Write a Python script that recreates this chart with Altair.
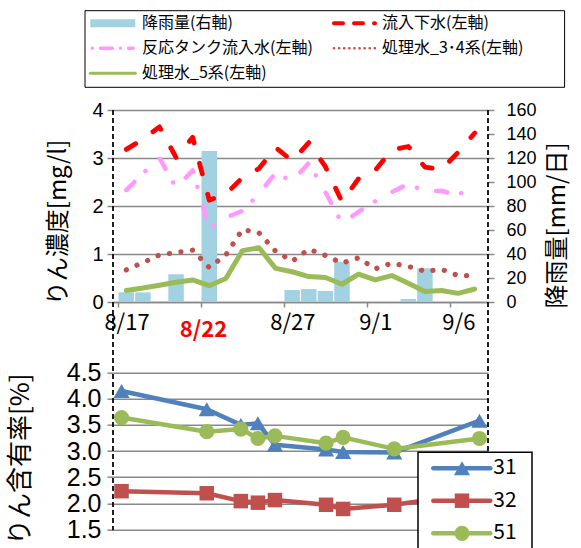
import altair as alt
import pandas as pd

# ---------------- data ----------------
# day index 0 = 8/17 ... 21 = 9/7
tick_days = [0, 5, 10, 15, 20]
tick_labels = ["8/17", "8/22", "8/27", "9/1", "9/6"]
highlight_label = "8/22"

rain = [8.1, 8.0, 0.8, 23.1, 0, 125.8, 0, 0, 0, 0, 10.0, 10.8, 9.2, 33.6,
        0, 0, 0, 2.5, 28.1, 0, 0, 0.8]
inflow = [3.18, 3.39, 3.65, 3.01, 3.43, 2.12, 2.25, 2.59, 2.78, 3.22, 2.94,
          3.32, 2.82, 2.09, 2.57, 2.74, 3.17, 3.24, 2.81, 2.76, 3.12, 3.52]
tank = [2.33, 2.68, 3.00, 2.38, 2.74, 1.55, 1.76, 1.90, 2.25, 2.69, 2.51,
        2.90, 2.29, 1.64, 1.88, 2.10, 2.29, 2.46, 2.30, 2.32, 2.21, 2.52]
treat34 = [0.67, 0.82, 0.98, 1.03, 1.08, 0.72, 0.98, 1.51, 1.44, 1.06, 0.85,
           1.10, 0.97, 0.81, 0.92, 0.69, 0.81, 0.74, 0.64, 0.68, 0.55, 0.55]
treat5 = [0.24, 0.29, 0.35, 0.41, 0.46, 0.34, 0.49, 1.07, 1.13, 0.70, 0.63,
          0.53, 0.51, 0.37, 0.58, 0.46, 0.55, 0.39, 0.22, 0.24, 0.18, 0.27]

series_names = ["降雨量(右軸)", "流入下水(左軸)", "反応タンク流入水(左軸)",
                "処理水_3･4系(左軸)", "処理水_5系(左軸)"]

lab_days = [0, 5, 7, 8, 9, 12, 13, 16, 21]
s31 = [4.15, 3.80, 3.50, 3.53, 3.12, 3.03, 2.98, 2.97, 3.58]
s32 = [2.23, 2.19, 2.04, 2.01, 2.06, 1.97, 1.89, 1.97, 2.20]
s51 = [3.64, 3.37, 3.42, 3.24, 3.29, 3.15, 3.26, 3.04, 3.24]
low_names = ["31", "32", "51"]

left_ticks = [0, 1, 2, 3, 4]
right_ticks = [0, 20, 40, 60, 80, 100, 120, 140, 160]
low_ticks = [1.5, 2.0, 2.5, 3.0, 3.5, 4.0, 4.5]

# ---------------- style ----------------
F_JP = "Noto Sans CJK JP"
F_NUM = "Liberation Sans"
GRID = "#898989"
C_RAIN = "#a2d2e2"
C_IN = "#ff0000"
C_TANK = "#ff99ff"
C_34 = "#c0504d"
C_5 = "#9bbb59"
C31, C32, C51 = "#4f81bd", "#c0504d", "#9bbb59"

W = 375
H1 = 192
H2 = 156.6
NDAYS = 22

up = pd.DataFrame({"x": [i + 0.5 for i in range(len(rain))], "rain": rain,
                   "inflow": inflow, "tank": tank, "t34": treat34, "t5": treat5})
low = pd.DataFrame({"x": [d + 0.5 for d in lab_days], "s31": s31, "s32": s32, "s51": s51})
one = pd.DataFrame({"k": [0]})

xscale = alt.Scale(domain=[0, NDAYS], nice=False, zero=False)
hl_val = tick_days[tick_labels.index(highlight_label)]
test = f"datum.value == {hl_val}"
label_expr = "".join(f"datum.value == {d} ? '{t}' : " for d, t in zip(tick_days, tick_labels)) + "''"

xaxis = alt.Axis(values=tick_days, labelExpr=label_expr, title=None, grid=False,
                 domainColor=GRID, domainWidth=1.5, tickColor=GRID, tickWidth=1.5,
                 tickSize=5, labelFont=F_JP, labelFontSize=22, labelFlush=False,
                 labelOverlap=False,
                 labelColor={"condition": {"test": test, "value": "#ff0000"}, "value": "#000000"},
                 labelFontWeight={"condition": {"test": test, "value": "bold"}, "value": "normal"},
                 labelOffset={"condition": {"test": test, "value": 2}, "value": 8.5},
                 labelPadding={"condition": {"test": test, "value": 12}, "value": 5})

left_axis = alt.Axis(values=left_ticks, orient="left", grid=True, gridColor=GRID,
                     gridWidth=1.5, domain=False, tickColor=GRID, tickWidth=1.5,
                     tickSize=6, labelFont=F_NUM, labelFontSize=20, labelPadding=4,
                     labelColor="#000000",
                     title="りん濃度[mg/l]", titleFont=F_JP, titleFontSize=24,
                     titleFontWeight="normal", titleColor="#000000", titleAngle=270,
                     titleX=-55, titleY=112, titleAlign="center", titleBaseline="middle")

right_axis = alt.Axis(values=right_ticks, orient="right", grid=False, domain=False,
                      tickColor=GRID, tickWidth=1.5, tickSize=6, labelFont=F_NUM,
                      labelFontSize=18, labelPadding=12, labelColor="#000000",
                      title="降雨量[mm/日]", titleFont=F_JP, titleFontSize=24,
                      titleFontWeight="normal", titleColor="#000000", titleAngle=270,
                      titleX=69, titleY=115, titleAlign="center", titleBaseline="middle")

yl_scale = alt.Scale(domain=[0, 4], nice=False, zero=True)

bars = alt.Chart(up).mark_bar(size=15.5, color=C_RAIN).encode(
    x=alt.X("x:Q", scale=xscale, axis=xaxis),
    y=alt.Y("rain:Q", scale=alt.Scale(domain=[0, 160], nice=False), axis=right_axis),
)


def line(field, color, width, dash=None):
    kw = dict(color=color, strokeWidth=width, strokeCap="round", strokeJoin="round")
    if dash is not None:
        kw["strokeDash"] = dash
    return alt.Chart(up).mark_line(**kw).encode(
        x=alt.X("x:Q", scale=xscale, axis=xaxis),
        y=alt.Y(f"{field}:Q", scale=yl_scale, axis=left_axis),
    )


lines = alt.layer(
    line("inflow", C_IN, 4.8, [11, 21]),
    line("tank", C_TANK, 4.5, [11.5, 15.5, 0.1, 20]),
    line("t34", C_34, 5.2, [0.1, 11.5]),
    line("t5", C_5, 5),
)


def vrule(x, y1, y2):
    return alt.Chart(one).mark_rule(color="black", strokeWidth=1.75, strokeDash=[5, 3]).encode(
        x=alt.value(x), y=alt.value(y1), y2=alt.value(y2))


def txt(s, x, y, size, font=F_JP):
    return alt.Chart(one).mark_text(align="left", baseline="middle", font=font,
                                    fontSize=size, color="black").encode(
        x=alt.value(x), y=alt.value(y), text=alt.value(s))


def sym(x1, x2, y, color, width, dash=None, offset=None):
    kw = dict(color=color, strokeWidth=width, strokeCap="round")
    if dash is not None:
        kw["strokeDash"] = dash
    if offset is not None:
        kw["strokeDashOffset"] = offset
    return alt.Chart(one).mark_rule(**kw).encode(
        x=alt.value(x1), x2=alt.value(x2), y=alt.value(y))


# top legend (pixel layout relative to the upper plot)
r1, r2, r3 = -86.7, -61.7, -36.7
c1s, c1e, c1t = -22.7, 22.3, 29
c2s, c2e, c2t = 219, 264, 269
legend_top = [
    alt.Chart(one).mark_rect(fill="white", stroke="black", strokeWidth=1).encode(
        x=alt.value(-28), x2=alt.value(451.6), y=alt.value(-99.3), y2=alt.value(-22.7)),
    alt.Chart(one).mark_rect(color=C_RAIN).encode(
        x=alt.value(c1s), x2=alt.value(c1e), y=alt.value(r1 - 4), y2=alt.value(r1 + 4)),
    txt(series_names[0], c1t, r1, 16),
    sym(c2s + 2, c2e - 2, r1, C_IN, 4, [9, 11]),
    txt(series_names[1], c2t, r1, 16),
    sym(c1s + 2, c1e - 2, r2, C_TANK, 3.5, [0.1, 8, 12, 8], 0),
    txt(series_names[2], c1t, r2, 16),
    sym(c2s + 2, c2e - 2, r2, C_34, 2.6, [0.1, 5]),
    txt(series_names[3], c2t, r2, 16),
    sym(c1s, c1e, r3, C_5, 3),
    txt(series_names[4], c1t, r3, 16),
]

upper = alt.layer(
    bars, lines,
    vrule(0, 0, 240), vrule(W, 0, 240),
    *legend_top,
).resolve_scale(y="independent").properties(width=W, height=H1)

# ---------------- lower chart ----------------
low_axis = alt.Axis(values=low_ticks, format=".1f", orient="left", grid=True,
                    gridColor=GRID, gridWidth=1.5, domain=False, tickColor=GRID,
                    tickWidth=1.5, tickSize=6, labelFont=F_NUM, labelFontSize=25,
                    labelPadding=6, labelColor="#000000",
                    title="りん含有率[%]", titleFont=F_JP, titleFontSize=26,
                    titleFontWeight="normal", titleColor="#000000", titleAngle=270,
                    titleX=-92.5, titleY=86, titleAlign="center", titleBaseline="middle")
ylow = alt.Scale(domain=[1.5, 4.5], nice=False, zero=False)


def lseries(field, color, shape, size):
    base = alt.Chart(low).encode(
        x=alt.X("x:Q", scale=xscale, axis=None),
        y=alt.Y(f"{field}:Q", scale=ylow, axis=low_axis),
    )
    return [base.mark_line(color=color, strokeWidth=4.5, strokeJoin="round"),
            base.mark_point(shape=shape, filled=True, opacity=1, color=color, size=size)]


lx1, lx2, lxm, ltx = 320.3, 377.3, 349, 380.3
ly = [95.6, 128, 160.6]
low_colors = [C31, C32, C51]
low_shapes = ["triangle-up", "square", "circle"]
low_sizes = [260, 210, 230]

legend_low = [alt.Chart(one).mark_rect(fill="white", stroke="black", strokeWidth=1.5).encode(
    x=alt.value(305), x2=alt.value(419), y=alt.value(79.6), y2=alt.value(190))]
for name, c, shp, sz, yy in zip(low_names, low_colors, low_shapes, low_sizes, ly):
    legend_low.append(sym(lx1, lx2, yy, c, 4.5))
    legend_low.append(alt.Chart(one).mark_point(shape=shp, filled=True, opacity=1, color=c,
                                                size=sz).encode(x=alt.value(lxm), y=alt.value(yy)))
    legend_low.append(txt(name, ltx, yy, 21))

lower = alt.layer(
    *lseries("s31", C31, "triangle-up", 260),
    *lseries("s32", C32, "square", 210),
    *lseries("s51", C51, "circle", 230),
    vrule(0, -22.7, H2 + 1), vrule(W, -22.7, H2 + 1),
    *legend_low,
).properties(width=W, height=H2)

chart = alt.vconcat(upper, lower, spacing=70.7, bounds="flush").properties(
    padding={"left": 7, "top": 10, "right": 5, "bottom": 5}
).configure_view(stroke=None)

chart.save("out.html", embed_options={"renderer": "svg", "actions": False})
